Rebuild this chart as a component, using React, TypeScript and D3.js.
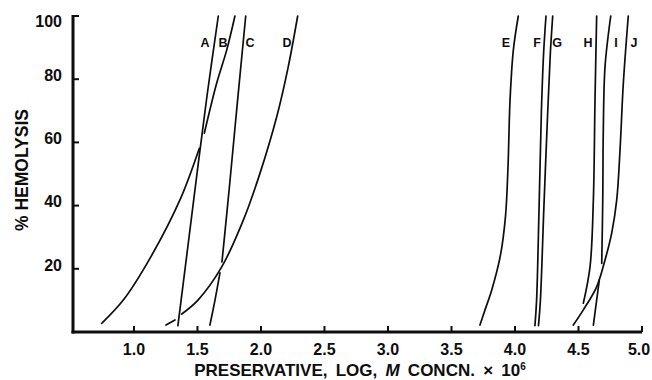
import React from 'react';
import * as d3 from 'd3';

const WIDTH = 652;
const HEIGHT = 380;

// axis extents (data units)
const xDomain = [0.52, 5.0];
const yDomain = [0, 100];

const xTickValues = [1.0, 1.5, 2.0, 2.5, 3.0, 3.5, 4.0, 4.5, 5.0];
const yTickValues = [20, 40, 60, 80, 100];

// Each curve is a list of visible segments of [log M concn x 10^6, % hemolysis];
// a curve is interrupted where another one crosses it.
const curveA = [[[1.346, 2], [1.418, 25], [1.496, 50], [1.576, 75], [1.664, 100]]];
const curveB = [
  [[0.746, 2.75], [0.916, 10.1], [1.126, 23.3], [1.362, 41.8], [1.514, 58.1]],
  [[1.554, 62.9], [1.651, 78.7], [1.73, 89.2], [1.795, 100]],
];
const curveC = [
  [[1.598, 2.2], [1.638, 10.1], [1.677, 18.7]],
  [[1.693, 22.2], [1.754, 47], [1.816, 73.4], [1.88, 100]],
];
const curveD = [
  [[1.252, 2.2], [1.323, 3.8]],
  [[1.376, 5.7], [1.504, 10.1], [1.691, 20.6], [1.861, 35.4], [1.992, 50.2], [2.124, 68.1], [2.215, 84.0], [2.289, 100]],
];
const curveE = [[[3.724, 2.2], [3.764, 7.0], [3.817, 13.3], [3.886, 24.4], [3.925, 36.5], [3.945, 52.3], [3.961, 73.4], [3.987, 89.2], [4.026, 100]]];
const curveF = [[[4.157, 2], [4.17, 10], [4.19, 40], [4.208, 70], [4.225, 88], [4.244, 100]]];
const curveG = [[[4.185, 2], [4.2, 10], [4.228, 40], [4.258, 70], [4.278, 88], [4.297, 100]]];
const curveH = [[[4.538, 9.1], [4.591, 20.7], [4.617, 41.8], [4.63, 73.4], [4.643, 100]]];
const curveI = [
  [[4.617, 2.2], [4.664, 16.5]],
  [[4.683, 21.7], [4.691, 41.8], [4.695, 62.9], [4.709, 84.0], [4.754, 100]],
];
const curveJ = [[[4.459, 2.2], [4.538, 7.0], [4.643, 14.3], [4.709, 22.8], [4.761, 31.2], [4.801, 41.8], [4.827, 57.6], [4.853, 78.7], [4.892, 100]]];

const curves = [curveA, curveB, curveC, curveD, curveE, curveF, curveG, curveH, curveI, curveJ];

// curve letters and where they sit (data units)
const curveNames = ['A', 'B', 'C', 'D', 'E', 'F', 'G', 'H', 'I', 'J'];
const nameX = [1.559, 1.701, 1.913, 2.205, 3.929, 4.173, 4.331, 4.575, 4.795, 4.937];
const nameY = 91.5;

const FONT = '"Liberation Sans", Arial, Helvetica, sans-serif';
const INK = '#0d0d0d';

export default function App() {
  const x = d3.scaleLinear().domain(xDomain).range([73, 642]);
  const y = d3.scaleLinear().domain(yDomain).range([332, 16]);

  const line = d3
    .line<number[]>()
    .x((d) => x(d[0]))
    .y((d) => y(d[1]))
    .curve(d3.curveCatmullRom.alpha(0.5));

  const [x0, x1] = x.range();
  const [yBottom, yTop] = y.range();

  return (
    <svg
      width={WIDTH}
      height={HEIGHT}
      viewBox={`0 0 ${WIDTH} ${HEIGHT}`}
      style={{ position: 'absolute', left: 0, top: 0, background: '#fff' }}
      fontFamily={FONT}
    >
      <rect x={0} y={0} width={WIDTH} height={HEIGHT} fill="#fff" />

      {/* curves */}
      <g fill="none" stroke={INK} strokeWidth={1.7} strokeLinecap="round">
        {curves.map((segs, i) =>
          segs.map((seg, j) => <path key={`${i}-${j}`} d={line(seg) || ''} />)
        )}
      </g>

      {/* curve letters */}
      <g fontSize={12.5} fontWeight="bold" fill={INK} textAnchor="middle">
        {curveNames.map((n, i) => (
          <text key={n} x={x(nameX[i])} y={y(nameY)} dy="0.35em">
            {n}
          </text>
        ))}
      </g>

      {/* axes */}
      <g stroke={INK} strokeWidth={3} fill="none">
        <line x1={x0} y1={yTop - 1} x2={x0} y2={yBottom + 1.5} />
        <line x1={x0 - 1.5} y1={yBottom} x2={x1} y2={yBottom} />
      </g>
      <g stroke={INK} strokeWidth={2}>
        {yTickValues.map((v) => (
          <line key={v} x1={x0} y1={y(v)} x2={x0 + 6} y2={y(v)} />
        ))}
        {xTickValues.map((v) => (
          <line key={v} x1={x(v)} y1={yBottom} x2={x(v)} y2={yBottom - 6} />
        ))}
      </g>

      {/* tick labels */}
      <g fontSize={16} fontWeight="bold" fill={INK}>
        {yTickValues.map((v) => (
          <text key={v} x={62} y={Math.max(y(v) - 4, 21)} dy="0.36em" textAnchor="end">
            {v}
          </text>
        ))}
        {xTickValues.map((v) => (
          <text key={v} x={Math.min(x(v), WIDTH - 13)} y={355} textAnchor="middle">
            {v.toFixed(1)}
          </text>
        ))}
      </g>

      {/* axis titles */}
      <text
        transform="translate(28,170) rotate(-90)"
        textAnchor="middle"
        fontSize={17.5}
        fontWeight="bold"
        fill={INK}
      >
        % HEMOLYSIS
      </text>
      <text x={360} y={376} textAnchor="middle" fontSize={17} fontWeight="bold" fill={INK} wordSpacing={3.5}>
        PRESERVATIVE, LOG,{' '}
        <tspan fontStyle="italic">M</tspan> CONCN. × 10
        <tspan fontSize={10} dy={-6}>6</tspan>
      </text>
    </svg>
  );
}
